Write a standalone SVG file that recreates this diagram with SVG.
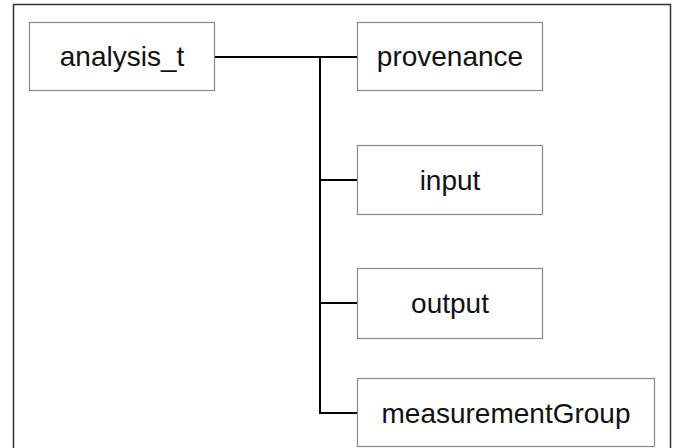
<svg xmlns="http://www.w3.org/2000/svg" width="673" height="448" viewBox="0 0 673 448">
<style>
.frame{fill:#fff;stroke:#333;stroke-width:1.5}
.box{fill:#fff;stroke:#888;stroke-width:1.2}
.lbl{font-family:"Liberation Sans",Arial,sans-serif;font-size:28px;fill:#111;text-anchor:middle}
.conn{fill:none;stroke:#000;stroke-width:2}
</style>
<rect x="0" y="0" width="673" height="448" fill="#fff"/>
<rect class="frame" x="13.5" y="4.5" width="657" height="470"/>
<g id="connectors">
<path class="conn" d="M214 57H357M320 57V413H357M320 180H357M320 303H357"/>
</g>
<g id="analysis_t"><rect class="box" x="29.5" y="22.5" width="185" height="68"/><text class="lbl" x="122" y="66">analysis_t</text></g>
<g id="provenance"><rect class="box" x="357.5" y="22.5" width="185" height="68"/><text class="lbl" x="450" y="66">provenance</text></g>
<g id="input"><rect class="box" x="357.5" y="145.5" width="185" height="69"/><text class="lbl" x="450" y="190">input</text></g>
<g id="output"><rect class="box" x="357.5" y="268.5" width="185" height="70"/><text class="lbl" x="450" y="313">output</text></g>
<g id="measurementGroup"><rect class="box" x="357.5" y="378.5" width="297" height="68"/><text class="lbl" x="506" y="423">measurementGroup</text></g>
</svg>
